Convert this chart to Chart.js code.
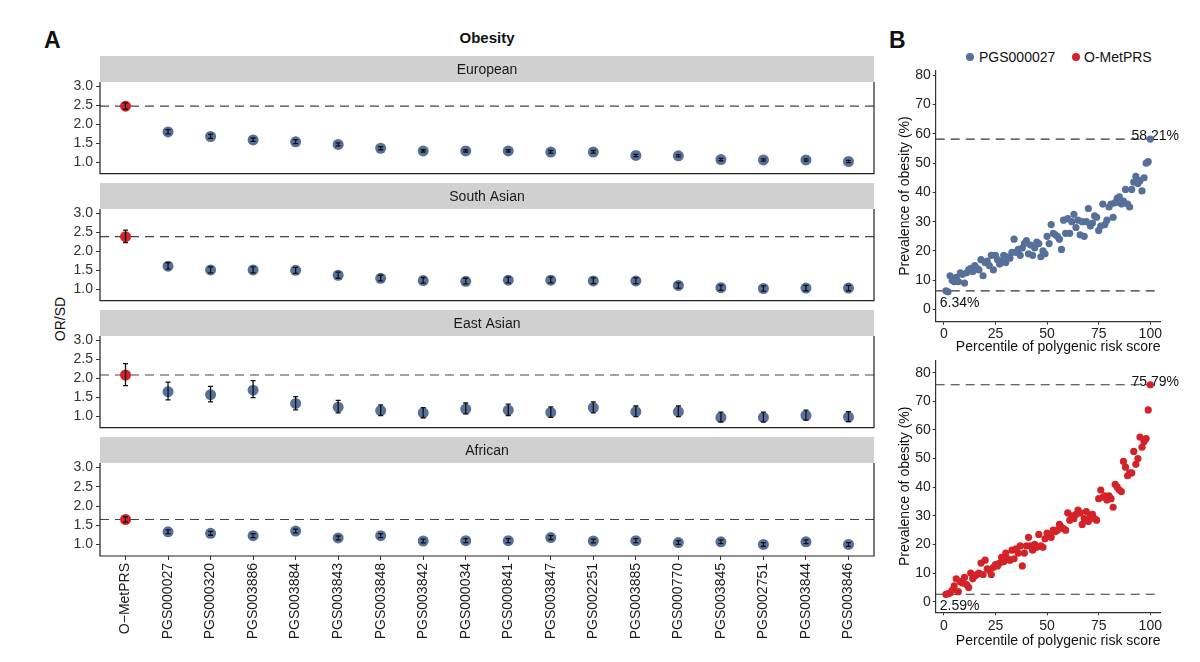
<!DOCTYPE html>
<html>
<head>
<meta charset="utf-8">
<script src="https://cdn.jsdelivr.net/npm/chart.js@4.4.1/dist/chart.umd.min.js"></script>
<style>
  body { margin: 0; background: #fff; font-family: 'Liberation Sans', Arial, sans-serif; }
  #wrap { position: relative; width: 1200px; height: 662px; overflow: hidden; }
  canvas, .t, .dot { position: absolute; }
  .t { white-space: nowrap; color: #111; }
  .dot { width: 8px; height: 8px; border-radius: 50%; }
</style>
</head>
<body>
<div id="wrap">
  <div class="t" style="left:44px;top:27px;font-size:23px;font-weight:bold">A</div>
  <div class="t" style="left:487px;top:37px;transform:translate(-50%,-50%);font-size:15px;font-weight:bold">Obesity</div>
  <div class="t" style="left:889px;top:27px;font-size:23px;font-weight:bold">B</div>
  <div class="t" style="left:60px;top:319px;transform:translate(-50%,-50%) rotate(-90deg);font-size:14px">OR/SD</div>

  <span class="dot" style="left:966px;top:53px;background:#56709a"></span>
  <div class="t" style="left:979px;top:57px;transform:translateY(-50%);font-size:14px">PGS000027</div>
  <span class="dot" style="left:1072px;top:53px;background:#d42229"></span>
  <div class="t" style="left:1084px;top:57px;transform:translateY(-50%);font-size:14px">O-MetPRS</div>

  <canvas id="f0" width="850" height="129" style="left:40px;top:56px"></canvas>
  <canvas id="f1" width="850" height="129" style="left:40px;top:183px"></canvas>
  <canvas id="f2" width="850" height="129" style="left:40px;top:310px"></canvas>
  <canvas id="f3" width="850" height="209" style="left:40px;top:437px"></canvas>
  <canvas id="sTop" width="305" height="296" style="left:890px;top:60px"></canvas>
  <canvas id="sBot" width="305" height="300" style="left:890px;top:350px"></canvas>
</div>
<script>
  'use strict'

  // ---- panel A data ----
  var categories = ['O\u2212MetPRS', 'PGS000027', 'PGS000320', 'PGS003886', 'PGS003884', 'PGS003843',
    'PGS003848', 'PGS003842', 'PGS000034', 'PGS000841', 'PGS003847', 'PGS002251', 'PGS003885',
    'PGS000770', 'PGS003845', 'PGS002751', 'PGS003844', 'PGS003846']
  var populations = ['European', 'South Asian', 'East Asian', 'African']
  var orTicks = [1.0, 1.5, 2.0, 2.5, 3.0]

  var eurOR = [2.48, 1.80, 1.68, 1.59, 1.54, 1.47, 1.37, 1.30, 1.30, 1.30, 1.27, 1.27, 1.18, 1.17, 1.07, 1.06, 1.06, 1.02]
  var eurLo = [2.40, 1.75, 1.63, 1.55, 1.49, 1.43, 1.33, 1.27, 1.27, 1.27, 1.24, 1.24, 1.15, 1.14, 1.04, 1.03, 1.03, 0.99]
  var eurHi = [2.57, 1.86, 1.74, 1.64, 1.60, 1.51, 1.41, 1.33, 1.33, 1.33, 1.31, 1.31, 1.21, 1.20, 1.10, 1.09, 1.09, 1.05]

  var sasOR = [2.39, 1.61, 1.51, 1.51, 1.50, 1.37, 1.29, 1.23, 1.21, 1.24, 1.24, 1.22, 1.22, 1.10, 1.04, 1.02, 1.03, 1.03]
  var sasLo = [2.23, 1.53, 1.43, 1.43, 1.42, 1.29, 1.22, 1.16, 1.14, 1.17, 1.17, 1.15, 1.15, 1.03, 0.97, 0.95, 0.96, 0.96]
  var sasHi = [2.56, 1.70, 1.59, 1.59, 1.58, 1.45, 1.37, 1.31, 1.29, 1.32, 1.32, 1.30, 1.30, 1.17, 1.11, 1.09, 1.10, 1.10]

  var easOR = [2.09, 1.65, 1.57, 1.69, 1.34, 1.24, 1.15, 1.09, 1.19, 1.16, 1.10, 1.23, 1.12, 1.12, 0.97, 0.97, 1.02, 0.98]
  var easLo = [1.81, 1.43, 1.38, 1.49, 1.17, 1.09, 1.02, 0.96, 1.06, 1.02, 0.97, 1.09, 0.99, 0.99, 0.85, 0.85, 0.90, 0.86]
  var easHi = [2.39, 1.90, 1.79, 1.94, 1.52, 1.42, 1.30, 1.23, 1.35, 1.32, 1.25, 1.38, 1.27, 1.27, 1.11, 1.11, 1.16, 1.12]

  var afrOR = [1.65, 1.33, 1.29, 1.23, 1.35, 1.17, 1.23, 1.09, 1.10, 1.10, 1.18, 1.09, 1.10, 1.05, 1.07, 1.00, 1.07, 1.00]
  var afrLo = [1.58, 1.28, 1.24, 1.18, 1.30, 1.12, 1.18, 1.04, 1.05, 1.05, 1.13, 1.04, 1.05, 1.00, 1.02, 0.95, 1.02, 0.95]
  var afrHi = [1.72, 1.38, 1.34, 1.28, 1.40, 1.22, 1.28, 1.14, 1.15, 1.15, 1.23, 1.14, 1.15, 1.10, 1.12, 1.05, 1.12, 1.05]

  // ---- panel B data (prevalence of obesity by percentile 1..100) ----
  var pctTicks = [0, 25, 50, 75, 100]
  var prevTicks = [0, 10, 20, 30, 40, 50, 60, 70, 80]
  var pgsPrev = [6.34, 6.0, 11.5, 10, 9.5, 11, 9.5, 12.5, 12, 9,
    12.5, 13.5, 14, 13, 15, 14, 13.5, 17, 11.5, 16,
    16.5, 15, 18.5, 13.5, 18.5, 17, 15.5, 16.5, 18.5, 16,
    18, 17.5, 19.5, 24, 19.5, 20.5, 18.5, 21, 22.5, 23.5,
    19, 22, 18.5, 21, 23, 22.5, 18, 20, 19, 25,
    22.5, 29, 26, 25.5, 25, 24, 20.5, 30.5, 26, 31,
    26, 30, 32.5, 28, 30.5, 25.5, 30, 25, 30, 34.5,
    28.5, 29.5, 32, 31.5, 27, 28.5, 36, 29, 30.5, 35,
    36, 31.5, 36.5, 38, 38.5, 36, 37, 41, 36, 35,
    41, 43.5, 45.5, 43, 44, 40.5, 45, 50, 50.5, 58.21]
  var metPrev = [2.59, 2.8, 3, 4, 5.5, 8, 3.5, 7, 6.5, 8.5,
    6, 5, 10, 8, 9, 9.5, 10, 13.5, 9.5, 14.5,
    11.5, 11, 9.5, 12, 13, 12.5, 13.5, 15.5, 14, 17,
    15, 14.5, 18, 15, 18.5, 17, 19.5, 12.5, 17, 19.5,
    22.5, 19.5, 18, 20, 19, 23.5, 19.5, 19, 22, 24,
    23, 22.5, 25, 24.5, 25, 27, 26, 25.5, 25, 31,
    28.5, 30, 29, 30.5, 32, 31, 27, 29, 31.5, 28,
    30, 30.5, 29, 28.5, 36, 39, 36.5, 37, 35.5, 37,
    36, 33, 41, 40, 39, 38.5, 49, 47, 44, 45,
    45, 52.5, 48, 50, 57.5, 54, 56, 57, 67, 75.79]

  var BLUE = '#56709a'
  var RED = '#d42229'

  Chart.defaults.font.family = "'Liberation Sans', Arial, sans-serif"
  Chart.defaults.font.size = 14
  Chart.defaults.color = '#333'

  /** facet decorations: ref line, error bars, panel border, strip */
  var facetDecor = {
    id: 'facetDecor',
    beforeDatasetsDraw: function (chart, args, o) {
      var ctx = chart.ctx, a = chart.chartArea
      var yy = chart.scales.y.getPixelForValue(o.ref)
      ctx.save()
      ctx.setLineDash([9, 6])
      ctx.strokeStyle = '#444'
      ctx.lineWidth = 1.2
      ctx.beginPath(); ctx.moveTo(a.left, yy); ctx.lineTo(a.right, yy); ctx.stroke()
      ctx.restore()
    },
    afterDatasetsDraw: function (chart, args, o) {
      var ctx = chart.ctx, x = chart.scales.x, y = chart.scales.y
      ctx.save()
      ctx.strokeStyle = '#111'
      ctx.lineWidth = 1.3
      o.lo.forEach(function (lo, i) {
        var px = x.getPixelForValue(i)
        var p1 = y.getPixelForValue(lo), p2 = y.getPixelForValue(o.hi[i])
        ctx.beginPath()
        ctx.moveTo(px, p1); ctx.lineTo(px, p2)
        ctx.moveTo(px - 2.5, p1); ctx.lineTo(px + 2.5, p1)
        ctx.moveTo(px - 2.5, p2); ctx.lineTo(px + 2.5, p2)
        ctx.stroke()
      })
      ctx.restore()
    },
    afterDraw: function (chart, args, o) {
      var ctx = chart.ctx, a = chart.chartArea
      ctx.save()
      ctx.fillStyle = '#d0d0d0'
      ctx.fillRect(a.left, 0, a.right - a.left, a.top)
      ctx.fillStyle = '#1a1a1a'
      ctx.font = "14px 'Liberation Sans', Arial, sans-serif"
      ctx.textAlign = 'center'
      ctx.textBaseline = 'middle'
      ctx.fillText(o.label, (a.left + a.right) / 2, a.top / 2 + 1)
      ctx.strokeStyle = '#222'
      ctx.lineWidth = 1.2
      ctx.beginPath()
      ctx.moveTo(a.left, a.top); ctx.lineTo(a.left, a.bottom)
      ctx.lineTo(a.right, a.bottom); ctx.lineTo(a.right, a.top)
      ctx.stroke()
      ctx.restore()
    }
  }

  function facet (id, label, or, lo, hi, last) {
    return new Chart(document.getElementById(id), {
      type: 'scatter',
      data: {
        datasets: [{
          data: or.map(function (v, i) { return { x: i, y: v } }),
          backgroundColor: or.map(function (v, i) { return i === 0 ? RED : BLUE }),
          pointRadius: 5.5,
          pointBorderWidth: 0
        }]
      },
      options: {
        responsive: false,
        animation: false,
        events: [],
        layout: { padding: { left: 0, top: 26, right: 16, bottom: last ? 0 : 10 } },
        plugins: {
          legend: { display: false },
          tooltip: { enabled: false },
          facetDecor: { ref: or[0], lo: lo, hi: hi, label: label }
        },
        scales: {
          x: {
            type: 'linear',
            min: -0.6,
            max: categories.length - 0.4,
            display: last,
            afterBuildTicks: function (s) { s.ticks = categories.map(function (c, i) { return { value: i } }) },
            afterFit: function (s) { s.height = last ? 90 : 0 },
            grid: { drawOnChartArea: false, tickLength: 4, color: '#333' },
            border: { display: false },
            ticks: {
              autoSkip: false, minRotation: 90, maxRotation: 90, padding: 3, color: '#1a1a1a',
              callback: function (v) { return categories[v] }
            }
          },
          y: {
            min: 0.7,
            max: 3.12,
            afterBuildTicks: function (s) { s.ticks = orTicks.map(function (v) { return { value: v } }) },
            afterFit: function (s) { s.width = 60 },
            grid: { drawOnChartArea: false, tickLength: 4, color: '#333' },
            border: { display: false },
            ticks: { padding: 3, callback: function (v) { return v.toFixed(1) } }
          }
        }
      },
      plugins: [facetDecor]
    })
  }

  facet('f0', populations[0], eurOR, eurLo, eurHi, false)
  facet('f1', populations[1], sasOR, sasLo, sasHi, false)
  facet('f2', populations[2], easOR, easLo, easHi, false)
  facet('f3', populations[3], afrOR, afrLo, afrHi, true)

  /** panel B: dashed lines at lowest / highest percentile with labels */
  var extremes = {
    id: 'extremes',
    beforeDatasetsDraw: function (chart) {
      var ctx = chart.ctx, a = chart.chartArea, x = chart.scales.x, y = chart.scales.y
      var vals = chart.data.datasets[0].data
      var low = vals[0].y, high = vals[vals.length - 1].y
      ctx.save()
      ctx.setLineDash([9, 6])
      ctx.strokeStyle = '#333'
      ctx.lineWidth = 1.1
      ;[low, high].forEach(function (v) {
        var yy = y.getPixelForValue(v)
        ctx.beginPath(); ctx.moveTo(a.left, yy); ctx.lineTo(a.right, yy); ctx.stroke()
      })
      ctx.setLineDash([])
      ctx.fillStyle = '#111'
      ctx.font = "14px 'Liberation Sans', Arial, sans-serif"
      ctx.textBaseline = 'alphabetic'
      ctx.textAlign = 'center'
      ctx.fillText(high.toFixed(2) + '%', x.getPixelForValue(100) + 5, y.getPixelForValue(high) + 1)
      ctx.textAlign = 'left'
      ctx.fillText(low.toFixed(2) + '%', a.left + 4, y.getPixelForValue(low) + 16)
      ctx.restore()
    }
  }

  function scatter (id, vals, color, ymin, ymax, axisH, tickPad) {
    return new Chart(document.getElementById(id), {
      type: 'scatter',
      data: {
        datasets: [{
          data: vals.map(function (v, i) { return { x: i + 1, y: v } }),
          backgroundColor: color,
          pointRadius: 3.6,
          pointBorderWidth: 0
        }]
      },
      options: {
        responsive: false,
        animation: false,
        events: [],
        layout: { padding: { left: 0, top: 8.5, right: 34.5, bottom: 0 } },
        plugins: { legend: { display: false }, tooltip: { enabled: false } },
        scales: {
          x: {
            min: -3.95,
            max: 104.95,
            afterBuildTicks: function (s) { s.ticks = pctTicks.map(function (v) { return { value: v } }) },
            afterFit: function (s) { s.height = axisH },
            grid: { drawOnChartArea: false, tickLength: 3, color: '#333' },
            border: { display: true, color: '#333', width: 1.2 },
            ticks: { padding: tickPad, color: '#222' },
            title: { display: true, align: 'end', text: 'Percentile of polygenic risk score', color: '#111', padding: { top: 0, bottom: 0 } }
          },
          y: {
            min: ymin,
            max: ymax,
            afterBuildTicks: function (s) { s.ticks = prevTicks.map(function (v) { return { value: v } }) },
            afterFit: function (s) { s.width = 45.7 },
            grid: { drawOnChartArea: false, tickLength: 3, color: '#333' },
            border: { display: true, color: '#333', width: 1.2 },
            ticks: { padding: 2, color: '#222' },
            title: { display: true, text: 'Prevalence of obesity (%)', color: '#111', padding: { top: 6.6, bottom: 0 } }
          }
        }
      },
      plugins: [extremes]
    })
  }

  scatter('sTop', pgsPrev, BLUE, -4.2, 81.7, 34.3, 1)
  scatter('sBot', metPrev, RED, -3.7, 84.3, 37.7, 2.3)
</script>
</body>
</html>
